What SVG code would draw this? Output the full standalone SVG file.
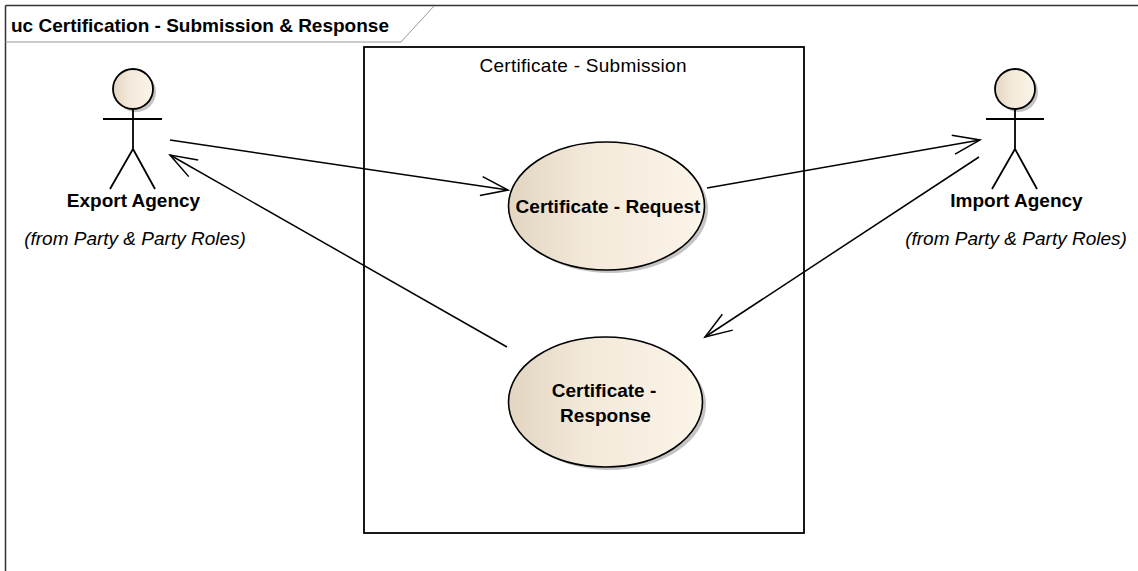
<svg xmlns="http://www.w3.org/2000/svg" width="1138" height="571" viewBox="0 0 1138 571">
<style>
text{font-family:"Liberation Sans",Arial,sans-serif;fill:#000}
.b{font-weight:bold;font-size:19px}
.i{font-style:italic;font-size:19px}
.r{font-size:19px}
.frame{stroke:#333;stroke-width:1.5;fill:none}
.tab{stroke:#999;stroke-width:1;fill:none}
.uc{fill:url(#g);stroke:#000;stroke-width:1.6}
.sh{fill:#c4c4c4}
.act{stroke:#000;stroke-width:1.8;fill:none}
.conn line{stroke:#000;stroke-width:1.5;marker-end:url(#arr)}
</style>
<defs>
<linearGradient id="g" x1="0" y1="0" x2="1" y2="0">
<stop offset="0" stop-color="#e2d5c1"/>
<stop offset="0.4" stop-color="#f3e9da"/>
<stop offset="1" stop-color="#fbf4e8"/>
</linearGradient>
<marker id="arr" markerUnits="userSpaceOnUse" viewBox="-32 -16 40 32" markerWidth="40" markerHeight="32" refX="0" refY="0" orient="auto" overflow="visible">
<path d="M-27,-9.5 L0,0 L-27,9.5" fill="none" stroke="#000" stroke-width="1.5"/>
</marker>
</defs>
<rect width="1138" height="571" fill="#fff"/>
<g id="frame">
<line class="frame" x1="5.5" y1="5.5" x2="1138" y2="5.5"/>
<line class="frame" x1="5.5" y1="5.5" x2="5.5" y2="571"/>
<polyline class="tab" points="5.5,42 401,42 434,6"/>
<text class="b" x="11" y="31.5">uc Certification - Submission &amp; Response</text>
</g>
<g id="boundary">
<rect x="364" y="47" width="440" height="486" fill="none" stroke="#000" stroke-width="1.8"/>
<text class="r" x="583" y="72" text-anchor="middle" textLength="207">Certificate - Submission</text>
</g>
<g id="conn" class="conn">
<line x1="170" y1="140" x2="508" y2="190"/>
<line x1="707" y1="188" x2="980" y2="140"/>
<line x1="979" y1="157" x2="705" y2="337"/>
<line x1="507" y1="347" x2="170" y2="155"/>
</g>
<g id="export-agency">
<circle class="sh" cx="136" cy="92" r="20"/>
<circle cx="133" cy="89" r="20" fill="url(#g)" stroke="#000" stroke-width="1.8"/>
<path class="act" d="M103,119 H162 M133,109 V149 L110,189 M133,149 L155,189"/>
<text class="b" x="133.5" y="207" text-anchor="middle">Export Agency</text>
<text class="i" x="135" y="245" text-anchor="middle">(from Party &amp; Party Roles)</text>
</g>
<g id="import-agency">
<circle class="sh" cx="1018" cy="92" r="20"/>
<circle cx="1015" cy="89" r="20" fill="url(#g)" stroke="#000" stroke-width="1.8"/>
<path class="act" d="M986,119 H1044 M1015,109 V149 L992,189 M1015,149 L1037,189"/>
<text class="b" x="1016.5" y="207" text-anchor="middle">Import Agency</text>
<text class="i" x="1016" y="245" text-anchor="middle">(from Party &amp; Party Roles)</text>
</g>
<g id="certificate-request">
<ellipse class="sh" cx="610" cy="209" rx="98" ry="64"/>
<ellipse class="uc" cx="606.5" cy="206" rx="98" ry="64"/>
<text class="b" x="608" y="212.5" text-anchor="middle">Certificate - Request</text>
</g>
<g id="certificate-response">
<ellipse class="sh" cx="609" cy="405" rx="97" ry="65"/>
<ellipse class="uc" cx="605.5" cy="402" rx="97" ry="65"/>
<text class="b" x="604" y="396.5" text-anchor="middle">Certificate -</text>
<text class="b" x="605.5" y="421.5" text-anchor="middle">Response</text>
</g>
</svg>
